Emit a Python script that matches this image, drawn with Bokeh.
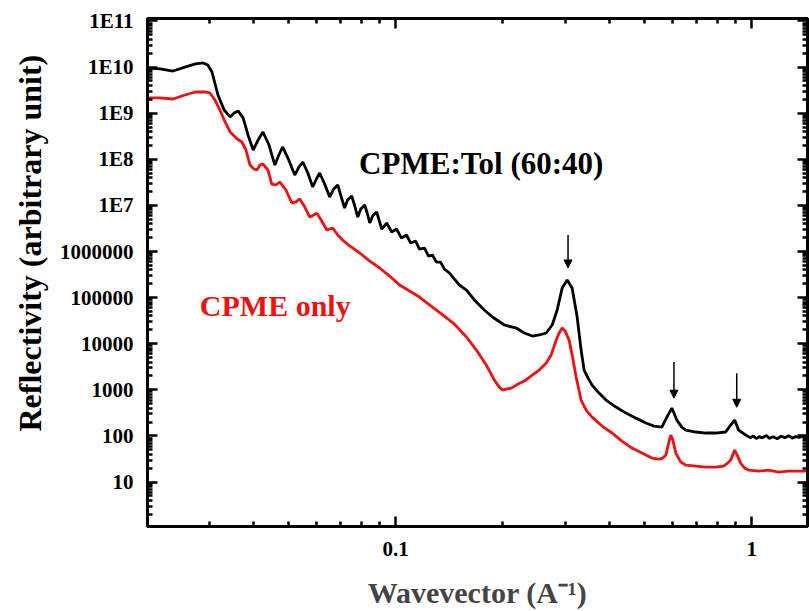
from bokeh.plotting import figure
from bokeh.models import (Range1d, FixedTicker, LogAxis, Label, Arrow, NormalHead,
                          CustomJSTickFormatter, Title)
from bokeh.embed import file_html
from bokeh.resources import INLINE

# ---------------- data ----------------
q_black = [0.0201, 0.0218, 0.0237, 0.0256, 0.0274, 0.0288, 0.0297, 0.0305, 0.0317, 0.0330,
           0.0343, 0.0352, 0.0361, 0.0373, 0.0385, 0.0398, 0.0411, 0.0424, 0.0441, 0.0458,
           0.0470, 0.0482, 0.0501, 0.0521, 0.0535, 0.0549, 0.0567, 0.0585, 0.0601, 0.0612,
           0.0632, 0.0653, 0.0670, 0.0688, 0.0701, 0.0719, 0.0733, 0.0753, 0.0768, 0.0783,
           0.0798, 0.0819, 0.0835, 0.0846, 0.0862, 0.0885, 0.0902, 0.0914, 0.0944, 0.0975,
           0.1006, 0.1039, 0.1074, 0.1102, 0.1138, 0.1167, 0.1206, 0.1237, 0.1269, 0.1302,
           0.1337, 0.1371, 0.1417, 0.1463, 0.1511, 0.1581, 0.1664, 0.1775, 0.1870, 0.2020,
           0.2183, 0.2298, 0.2420, 0.2531, 0.2649, 0.2753, 0.2843, 0.2936, 0.3033, 0.3132,
           0.3235, 0.3319, 0.3384, 0.3472, 0.3563, 0.3727, 0.3899, 0.4159, 0.4436, 0.4732,
           0.5047, 0.5314, 0.5596, 0.5779, 0.5969, 0.6164, 0.6366, 0.6532, 0.6967, 0.7430,
           0.7925, 0.8453, 0.8730, 0.8959, 0.9193, 0.9618, 0.99, 1.01, 1.03, 1.05,
           1.07, 1.10, 1.12, 1.15, 1.18, 1.21, 1.24, 1.27, 1.30, 1.33,
           1.36, 1.39, 1.435]
R_black = [9.5e9, 9.1e9, 8.2e9, 1.0e10, 1.17e10, 1.23e10, 1.11e10, 7.8e9, 2.48e9, 1.17e9,
           8.3e8, 1.01e9, 1.12e9, 7.9e8, 3.37e8, 1.59e8, 2.62e8, 3.91e8, 2.04e8, 7.5e7,
           1.24e8, 1.85e8, 9.7e7, 4.56e7, 6.8e7, 8.7e7, 5.05e7, 2.51e7, 3.93e7, 5.05e7,
           2.91e7, 1.52e7, 2.27e7, 2.77e7, 1.68e7, 8.8e6, 1.31e7, 1.60e7, 9.7e6, 5.6e6,
           8.4e6, 1.02e7, 6.2e6, 4.15e6, 5.9e6, 7.2e6, 4.37e6, 3.08e6, 4.15e6, 2.65e6,
           3.08e6, 1.96e6, 2.28e6, 1.53e6, 1.69e6, 1.13e6, 1.19e6, 7.98e5, 8.4e5, 5.9e5,
           5.9e5, 4.17e5, 3.42e5, 2.53e5, 1.88e5, 1.46e5, 8.9e4, 5.4e4, 3.8e4, 2.55e4,
           2.19e4, 1.71e4, 1.47e4, 1.55e4, 1.71e4, 2.55e4, 5.4e4, 1.61e5, 2.41e5, 1.61e5,
           3.8e4, 7.3e3, 2.69e3, 1.80e3, 1.27e3, 853, 601, 424, 314, 244,
           191, 164, 156, 257, 403, 221, 156, 134, 122, 116,
           116, 122, 172, 221, 134, 105, 92, 100, 88, 97,
           91, 102, 89, 96, 87, 99, 92, 101, 90, 97,
           93, 99, 94]

q_red = [0.0201, 0.0218, 0.0237, 0.0256, 0.0274, 0.0292, 0.0301, 0.0311, 0.0321, 0.0332,
         0.0343, 0.0359, 0.0370, 0.0380, 0.0390, 0.0400, 0.0408, 0.0416, 0.0424, 0.0438,
         0.0449, 0.0461, 0.0473, 0.0492, 0.0511, 0.0525, 0.0538, 0.0556, 0.0574, 0.0589,
         0.0601, 0.0620, 0.0641, 0.0653, 0.0666, 0.0688, 0.0710, 0.0743, 0.0793, 0.0846,
         0.0902, 0.0962, 0.1026, 0.1094, 0.1167, 0.1269, 0.1371, 0.1463, 0.1581, 0.1686,
         0.1798, 0.1894, 0.1956, 0.1994, 0.2046, 0.2113, 0.2183, 0.2298, 0.2420, 0.2531,
         0.2649, 0.2735, 0.2825, 0.2880, 0.2936, 0.2994, 0.3072, 0.3152, 0.3214, 0.3319,
         0.3428, 0.3563, 0.3800, 0.4053, 0.4323, 0.4611, 0.4918, 0.5247, 0.5489, 0.5632,
         0.5742, 0.5854, 0.5930, 0.6007, 0.6124, 0.6325, 0.6532, 0.6967, 0.7430, 0.7925,
         0.8345, 0.8563, 0.8730, 0.8959, 0.9134, 0.9312, 0.9556, 0.9806, 1.046, 1.116,
         1.190, 1.269, 1.354, 1.435]
R_red = [2.14e9, 2.14e9, 2.03e9, 2.48e9, 2.88e9, 2.88e9, 2.74e9, 1.93e9, 1.17e9, 6.44e8,
         3.91e8, 2.75e8, 2.37e8, 1.59e8, 7.5e7, 6.17e7, 5.86e7, 7.5e7, 7.9e7, 5.86e7,
         2.91e7, 2.77e7, 3.22e7, 2.16e7, 1.13e7, 1.19e7, 1.38e7, 9.2e6, 5.6e6, 6.2e6,
         6.8e6, 4.59e6, 2.93e6, 3.08e6, 3.24e6, 2.28e6, 1.77e6, 1.32e6, 9.3e5, 6.2e5,
         4.39e5, 2.94e5, 1.88e5, 1.39e5, 1.03e5, 6.26e4, 3.99e4, 2.67e4, 1.40e4, 7.3e3,
         3.45e3, 1.63e3, 1.15e3, 990, 1.04e3, 1.09e3, 1.27e3, 1.55e3, 2.09e3, 2.69e3,
         3.81e3, 5.69e3, 1.20e4, 1.71e4, 2.19e4, 1.88e4, 1.20e4, 4.43e3, 1.90e3, 601,
         365, 257, 164, 116, 77.5, 54.7, 42.6, 33.2, 31.6, 33.2,
         38.5, 73.7, 105, 81.5, 42.6, 27.2, 23.4, 22.2, 21.1, 21.1,
         22.2, 25.8, 30.0, 49.4, 36.6, 25.8, 20.1, 18.2, 17.3, 18.2,
         16.5, 17.3, 17.3, 17.3]

# peak markers (arrows): q position, top and bottom of each arrow
arrow_q = [0.305, 0.605, 0.908]
arrow_top = [2.28e6, 4.0e3, 2.3e3]
arrow_bottom = [4.4e5, 6.6e2, 4.2e2]

# axis ticks
y_major = [10 ** k for k in range(0, 12)]
y_labels = ["1", "10", "100", "1000", "10000", "100000", "1000000",
            "1E7", "1E8", "1E9", "1E10", "1E11"]
y_minor = [m * 10 ** k for k in range(0, 12) for m in range(2, 10)]
x_major = [0.01, 0.1, 1, 10]
x_labels = ["0.01", "0.1", "1", "10"]
x_minor = [m * 10.0 ** k for k in (-2, -1, 0) for m in range(2, 10)]

series_labels = ["CPME:Tol (60:40)", "CPME only"]
x_title = "Wavevector (A\u207b\u00b9)"
y_title = "Reflectivity (arbitrary unit)"

FONT = "Liberation Serif"
RED = "#ee1111"

p = figure(width=809, height=611, x_axis_type="log", y_axis_type="log",
           x_range=Range1d(0.0201, 1.435), y_range=Range1d(1.09, 1.13e11),
           output_backend="svg", toolbar_location=None,
           min_border_left=147, min_border_right=2, min_border_top=18, min_border_bottom=85)
p.grid.visible = False
p.background_fill_color = "white"
p.border_fill_color = "white"
p.outline_line_color = "black"
p.outline_line_width = 3

xt = FixedTicker(ticks=x_major, minor_ticks=x_minor)
yt = FixedTicker(ticks=y_major, minor_ticks=y_minor)

lookup_code = """
let best = 0; let bd = Infinity;
for (let i = 0; i < vals.length; i++) {
  const d = Math.abs(Math.log10(vals[i]) - Math.log10(tick));
  if (d < bd) { bd = d; best = i; }
}
return labs[best];
"""
x_fmt = CustomJSTickFormatter(args=dict(vals=x_major, labs=x_labels), code=lookup_code)
y_fmt = CustomJSTickFormatter(args=dict(vals=y_major, labs=y_labels), code=lookup_code)
blank_fmt = CustomJSTickFormatter(code="return '';")


def style_axis(ax):
    ax.axis_line_width = 3
    ax.axis_line_color = "black"
    ax.major_tick_in = 10
    ax.major_tick_out = 0
    ax.minor_tick_in = 5
    ax.minor_tick_out = 0
    ax.major_tick_line_width = 2.5
    ax.minor_tick_line_width = 2.5
    ax.major_tick_line_color = "black"
    ax.minor_tick_line_color = "black"
    ax.major_label_text_font = FONT
    ax.major_label_text_font_style = "bold"
    ax.major_label_text_font_size = "21px"
    ax.major_label_text_color = "black"


xa = p.xaxis[0]
xa.ticker = xt
xa.formatter = x_fmt
style_axis(xa)
xa.major_label_standoff = 15
xa.axis_label = x_title
xa.axis_label_text_font = FONT
xa.axis_label_text_font_style = "bold"
xa.axis_label_text_font_size = "30px"
xa.axis_label_standoff = 17

ya = p.yaxis[0]
ya.ticker = yt
ya.formatter = y_fmt
style_axis(ya)
ya.major_label_standoff = 14

top = LogAxis(ticker=xt, formatter=blank_fmt)
style_axis(top)
top.major_label_standoff = 0
top.major_label_text_font_size = "2px"
p.add_layout(top, "above")
right = LogAxis(ticker=yt, formatter=blank_fmt)
style_axis(right)
right.major_label_standoff = 0
right.major_label_text_font_size = "2px"
p.add_layout(right, "right")

# y axis title (as a side title so it can sit where the reference puts it)
p.add_layout(Title(text=y_title, align="left", offset=95, standoff=17,
                   text_font=FONT, text_font_style="bold", text_font_size="32px",
                   text_color="black"), "left")

# curves
p.line(q_black, R_black, line_color="black", line_width=2.8)
p.line(q_red, R_red, line_color=RED, line_width=2.8)

# arrows
for xq, y0, y1 in zip(arrow_q, arrow_top, arrow_bottom):
    p.add_layout(Arrow(end=NormalHead(size=8, fill_color="black", line_color="black", line_width=1),
                       x_start=xq, y_start=y0, x_end=xq, y_end=y1,
                       line_color="black", line_width=1.5))

# annotations
p.add_layout(Label(x=0.174, y=8.3e7, text=series_labels[0], text_align="center",
                   text_baseline="middle", text_font=FONT, text_font_style="bold",
                   text_font_size="31px", text_color="black"))
p.add_layout(Label(x=0.0282, y=6.6e4, text=series_labels[1], text_align="left",
                   text_baseline="middle", text_font=FONT, text_font_style="bold",
                   text_font_size="30px", text_color=RED))

open("out.html", "w").write(file_html(p, INLINE))
